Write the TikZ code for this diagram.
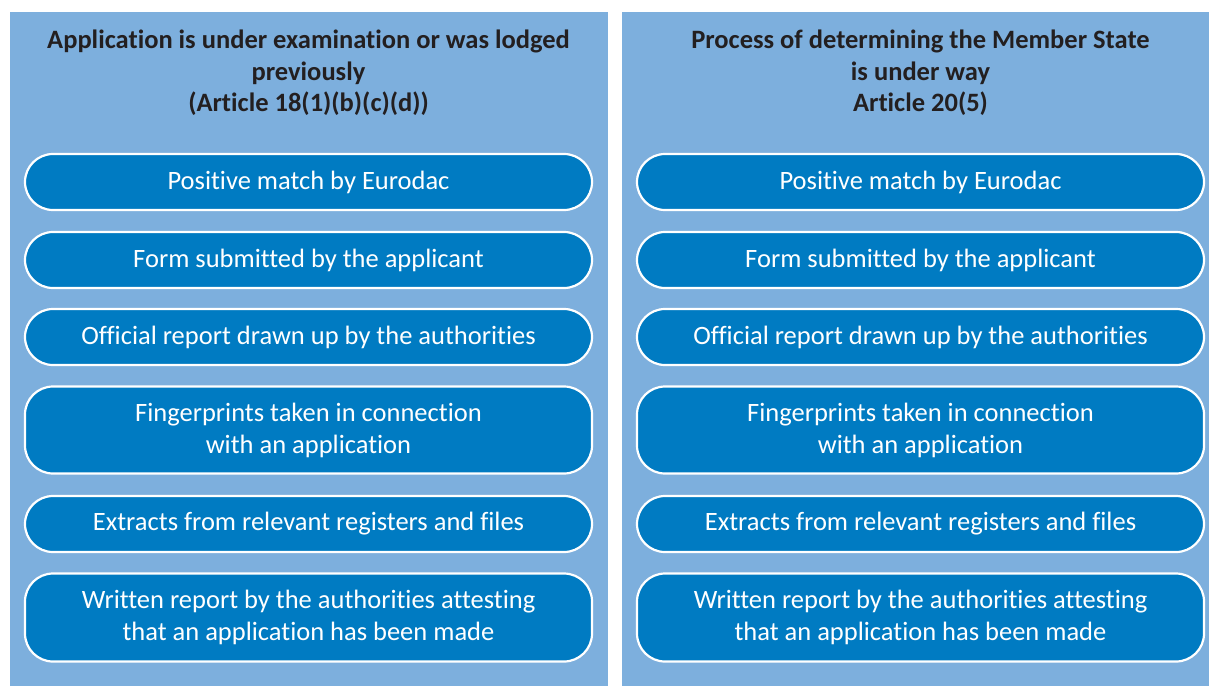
\documentclass[tikz,border=0pt]{standalone}
\usepackage{fontspec}
\setmainfont{Carlito}[Ligatures={NoCommon,NoRequired,NoContextual}]
\usepackage{tikz}
\usetikzlibrary{arrows}

\definecolor{panelblue}{RGB}{125,175,221}
\definecolor{boxblue}{RGB}{0,123,194}
\definecolor{titleink}{RGB}{35,31,32}

\tikzset{
  panel/.style={fill=panelblue, draw=none},
  paneltitle/.style={text=titleink, font=\fontsize{26.5}{31.5}\selectfont\bfseries, align=center},
  evidence/.style={draw=white, line width=2.2pt, fill=boxblue, rounded corners=28pt,
    text=white, font=\fontsize{26.5}{32}\selectfont, align=center,
    minimum width=567pt, inner sep=0pt},
}

\begin{document}
\begin{tikzpicture}[x=1pt,y=-1pt]
\useasboundingbox (0,0) rectangle (1209,686);
\def \lx {308.5}
\def \rx {920.5}
% two panels
\path[panel] (10,12) rectangle (608,686);
\path[panel] (622,12) rectangle (1209,686);
\node[paneltitle] at (\lx,73) (t1) {Application is under examination or was lodged\\previously\\(Article 18(1)(b)(c)(d))};
\node[paneltitle] at (\rx,73) (t2) {Process of determining the Member State\\is under way\\Article 20(5)};
% left column
\node[evidence, minimum height=56pt] at (\lx,182) (l1) {Positive match by Eurodac};
\node[evidence, minimum height=56pt] at (\lx,260) (l2) {Form submitted by the applicant};
\node[evidence, minimum height=56pt] at (\lx,337) (l3) {Official report drawn up by the authorities};
\node[evidence, minimum height=87pt] at (\lx,430) (l4) {Fingerprints taken in connection\\with an application};
\node[evidence, minimum height=56pt] at (\lx,524) (l5) {Extracts from relevant registers and files};
\node[evidence, minimum height=88pt] at (\lx,617.5) (l6) {Written report by the authorities attesting\\that an application has been made};
% right column
\node[evidence, minimum height=56pt] at (\rx,182) (r1) {Positive match by Eurodac};
\node[evidence, minimum height=56pt] at (\rx,260) (r2) {Form submitted by the applicant};
\node[evidence, minimum height=56pt] at (\rx,337) (r3) {Official report drawn up by the authorities};
\node[evidence, minimum height=87pt] at (\rx,430) (r4) {Fingerprints taken in connection\\with an application};
\node[evidence, minimum height=56pt] at (\rx,524) (r5) {Extracts from relevant registers and files};
\node[evidence, minimum height=88pt] at (\rx,617.5) (r6) {Written report by the authorities attesting\\that an application has been made};
\end{tikzpicture}
\end{document}
